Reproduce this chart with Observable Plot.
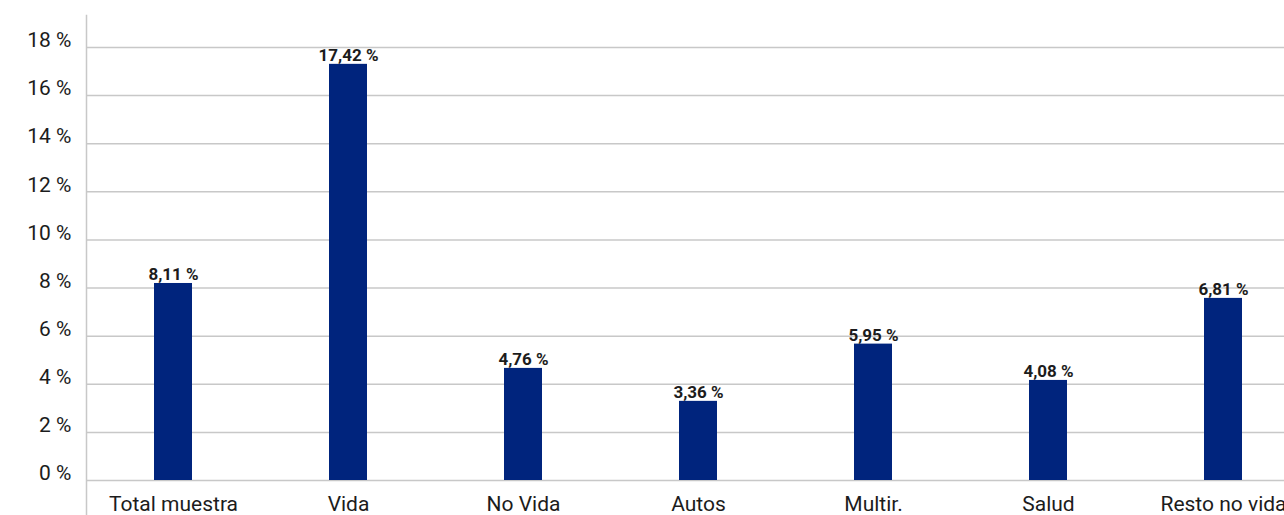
<!DOCTYPE html>
<html>
<head>
<meta charset="utf-8">
<script src="https://cdn.jsdelivr.net/npm/d3@7"></script>
<script src="https://cdn.jsdelivr.net/npm/@observablehq/plot@0.6"></script>
<style>
  html, body { margin: 0; padding: 0; background: #fff; overflow: hidden; }
  #chart svg { display: block; }
</style>
</head>
<body>
<div id="chart"></div>
<script>
const categories = ["Total muestra", "Vida", "No Vida", "Autos", "Multir.", "Salud", "Resto no vida"];
const barValues = [8.19, 17.30, 4.66, 3.29, 5.67, 4.16, 7.57];
const valueLabels = ["8,11 %", "17,42 %", "4,76 %", "3,36 %", "5,95 %", "4,08 %", "6,81 %"];
const yTicks = [0, 2, 4, 6, 8, 10, 12, 14, 16, 18];

const data = categories.map((c, i) => ({cat: c, value: barValues[i], label: valueLabels[i]}));

const font = "Roboto, 'DejaVu Sans', sans-serif";
const textColor = "#1c1c1c";
const gridColor = "#c8c8c8";
const barColor = "#00247d";

const chart = Plot.plot({
  width: 1284,
  height: 515,
  marginLeft: 86,
  marginRight: 0,
  marginTop: 15,
  marginBottom: 0,
  style: {fontFamily: font, background: "#fff", color: textColor, overflow: "hidden"},
  x: {domain: categories, range: [86, 1311], paddingInner: 0.78, paddingOuter: 0.39, axis: null},
  y: {domain: [0, 18], range: [480, 47], axis: null},
  marks: [
    Plot.ruleY(yTicks, {stroke: gridColor, strokeWidth: 1.5}),
    Plot.frame({anchor: "left", stroke: gridColor, strokeWidth: 1.5}),
    Plot.axisY({ticks: yTicks, tickFormat: d => `${d} %`, tickSize: 0, tickPadding: 15, fontSize: 21, dy: -7, fill: textColor, label: null}),
    Plot.barY(data, {x: "cat", y: "value", fill: barColor}),
    Plot.text(data, {x: "cat", y: "value", text: "label", dy: -3, lineAnchor: "bottom", fontSize: 17, fontWeight: "bold", fill: textColor}),
    Plot.text(data, {x: "cat", y: 0, text: "cat", dy: 24, lineAnchor: "middle", fontSize: 21, fill: textColor})
  ]
});
document.getElementById("chart").appendChild(chart);
</script>
</body>
</html>
